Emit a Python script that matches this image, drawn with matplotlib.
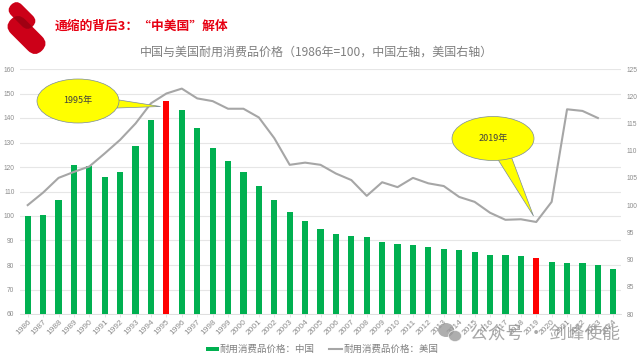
import matplotlib
matplotlib.use('Agg')
import matplotlib.pyplot as plt
from matplotlib.patches import Ellipse, FancyBboxPatch, Polygon
from matplotlib.transforms import Affine2D

plt.rcParams['font.family'] = ['Noto Sans CJK SC', 'DejaVu Sans']

years = list(range(1986, 2025))
china = [100, 100.5, 106.5, 121, 120.5, 116, 118, 128.5, 139.3, 146.8,
         143.3, 136, 127.8, 122.3, 118, 112.3, 106.5, 101.8, 98, 94.8,
         92.7, 92, 91.5, 89.2, 88.7, 88, 87.2, 86.5, 86, 85.2,
         84, 84, 83.7, 82.7, 81.3, 80.8, 80.8, 80, 78.3]
usa = [100, 102.3, 105, 106.1, 107.1, 109.5, 112, 115, 118.7, 120.5,
       121.4, 119.6, 119.1, 117.7, 117.7, 116.1, 112.3, 107.4, 107.8, 107.4,
       105.8, 104.6, 101.7, 104.2, 103.3, 105, 104, 103.5, 101.5, 100.6,
       98.6, 97.3, 97.4, 96.9, 100.6, 117.6, 117.3, 116]
usa_years = years[:len(usa)]
highlight = [1995, 2019]
left_ticks = list(range(60, 170, 10))
right_ticks = list(range(80, 130, 5))

GREEN = '#00b050'
GREY = '#a6a6a6'
TICK = '#8c8c8c'
TICK_FONT = 'Liberation Sans'

fig = plt.figure(figsize=(6.4, 3.6), dpi=100)

# main axes, placed in pixels
ax = fig.add_axes([20 / 640, 1 - 314 / 360, 601 / 640, 245 / 360])
colors = ['#ff0000' if y in highlight else GREEN for y in years]
ax.bar(years, china, width=0.4, color=colors, zorder=2)
ax.set_xlim(1985.5, 2024.5)
ax.set_ylim(60, 160)
ax.set_yticks(left_ticks)
ax.set_xticks(years)
ax.set_xticklabels(years, rotation=45, ha='right', rotation_mode='anchor', family=TICK_FONT)
for lab in ax.get_yticklabels():
    lab.set_family(TICK_FONT)
ax.tick_params(axis='y', length=0, labelsize=4.8, labelcolor=TICK, pad=4)
ax.tick_params(axis='x', length=2, width=0.5, color='#d9d9d9', labelsize=6, labelcolor=TICK, pad=1)
ax.grid(axis='y', color='#e6e6e6', linewidth=0.8, zorder=0)
ax.set_axisbelow(True)
for s in ['top', 'left', 'right']:
    ax.spines[s].set_visible(False)
ax.spines['bottom'].set_color('#d9d9d9')
ax.spines['bottom'].set_linewidth(0.6)

ax2 = ax.twinx()
ax2.plot(usa_years, usa, color=GREY, linewidth=1.5, zorder=3)
ax2.set_ylim(80, 125)
ax2.set_yticks(right_ticks)
for lab in ax2.get_yticklabels():
    lab.set_family(TICK_FONT)
ax2.tick_params(axis='y', length=0, labelsize=4.8, labelcolor=TICK, pad=4)
for s in ax2.spines.values():
    s.set_visible(False)

# overlay in pixel coordinates for logo, callouts, watermark
ov = fig.add_axes([0, 0, 1, 1], zorder=5)
ov.set_xlim(0, 640)
ov.set_ylim(360, 0)
ov.axis('off')
ov.patch.set_alpha(0)


def pill(cx, cy, length, thick, color='#cc0018'):
    p = FancyBboxPatch((-length / 2, -thick / 2), length, thick,
                       boxstyle='round,pad=0,rounding_size=%f' % (thick / 2),
                       fc=color, ec='none')
    p.set_transform(Affine2D().rotate_deg(45).translate(cx, cy) + ov.transData)
    ov.add_patch(p)
    return p


pill(22, 15.5, 30.5, 15)
lower = pill(26.5, 35, 44, 20)
# darker overlap of the two bars
overlap = pill(22, 15.5, 30.5, 15, color='#a00012')
overlap.set_clip_path(lower.get_path(), lower.get_transform())

ov.text(55, 26, '通缩的背后3\uff1a“中美国”解体', color='#e60012', fontsize=9.2,
        fontweight='bold', va='center', ha='left')
ov.text(316.5, 52.5, '中国与美国耐用消费品价格\uff081986年=100\uff0c中国左轴\uff0c美国右轴\uff09',
        color='#7f7f7f', fontsize=8.65, va='center', ha='center')

# callouts
ov.add_patch(Polygon([(119, 100), (160.5, 106.5), (117, 108)], fc='#ffff00', ec='#7a8a9a', lw=0.5, zorder=2))
ov.add_patch(Ellipse((78, 101), 82, 44, fc='#ffff00', ec='#7a8a9a', lw=0.5, zorder=3))
ov.text(78, 101, '1995年', fontsize=6.5, color='#404040', ha='center', va='center', zorder=4)
ov.add_patch(Polygon([(497, 158), (533.5, 216), (511, 156)], fc='#ffff00', ec='#7a8a9a', lw=0.5, zorder=2))
ov.add_patch(Ellipse((493, 138.5), 82, 44, fc='#ffff00', ec='#7a8a9a', lw=0.5, zorder=3))
ov.text(493, 138.5, '2019年', fontsize=6.5, color='#404040', ha='center', va='center', zorder=4)

# legend drawn by hand to sit at the exact spot
ov.add_patch(plt.Rectangle((206, 347), 13, 4, fc=GREEN, ec='none'))
ov.text(220, 349, '耐用消费品价格\uff1a中国', color='#7f7f7f', fontsize=6.8, va='center')
ov.plot([329, 342], [349, 349], color=GREY, lw=1.5)
ov.text(343, 349, '耐用消费品价格\uff1a美国', color='#7f7f7f', fontsize=6.8, va='center')

# watermark
ov.add_patch(Ellipse((446, 330), 16, 14, fc='#9a9a9a', ec='none', alpha=0.8))
ov.add_patch(Ellipse((455, 336), 13, 11, fc='#9a9a9a', ec='white', lw=0.5, alpha=0.8))
ov.text(470, 334, '公众号 · 剑峰使能', color='#8c8c8c', alpha=0.75, fontsize=12.8, va='center', ha='left')

fig.savefig('out.png', dpi=100)
